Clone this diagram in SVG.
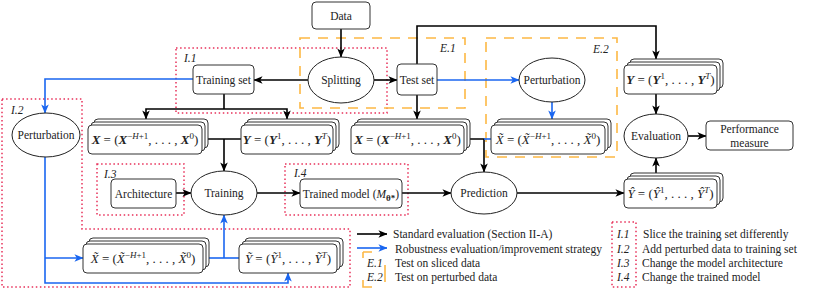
<svg xmlns="http://www.w3.org/2000/svg" width="830" height="293" viewBox="0 0 830 293">
<style>
text{font-family:"Liberation Serif","Times New Roman",serif;font-size:11.5px;fill:#222}
.c{text-anchor:middle}
.it{font-style:italic}
.m{font-size:13px;text-anchor:middle}
.b{font-weight:bold;font-style:italic}
.i{font-style:italic}
.sup{font-size:9px}
.box{fill:#fff;stroke:#333;stroke-width:1}
.ell{fill:#fff;stroke:#222;stroke-width:1}
.k{fill:none;stroke:#000;stroke-width:1.6}
.bl{fill:none;stroke:#1a66f0;stroke-width:1.6}
.ka{marker-end:url(#ak)}
.ba{marker-end:url(#ab)}
.red{fill:none;stroke:#e8305a;stroke-width:1.5;stroke-dasharray:1.5 2.6}
.org{fill:none;stroke:#fdb844;stroke-width:1.6;stroke-dasharray:10 8}
</style>
<defs>
<marker id="ak" viewBox="0 0 10 10" refX="9.5" refY="5" markerWidth="9" markerHeight="9" markerUnits="userSpaceOnUse" orient="auto"><path d="M0,0.8 L10,5 L0,9.2 L2.6,5 z" fill="#000"/></marker>
<marker id="ab" viewBox="0 0 10 10" refX="9.5" refY="5" markerWidth="9" markerHeight="9" markerUnits="userSpaceOnUse" orient="auto"><path d="M0,0.8 L10,5 L0,9.2 L2.6,5 z" fill="#1a66f0"/></marker>
</defs>
<rect width="830" height="293" fill="#fff"/>

<g id="regions">
<rect class="red" x="176" y="48" width="211" height="65"/>
<path class="red" d="M2,99 H82 V229 H350 V287 H2 Z"/>
<rect class="red" x="97" y="164" width="87" height="51"/>
<rect class="red" x="285" y="164" width="123" height="51"/>
<rect class="org" x="300" y="38" width="165" height="70"/>
<rect class="org" x="486" y="38" width="131" height="119"/>
<text x="184" y="62" class="it">I.1</text>
<text x="11" y="114" class="it">I.2</text>
<text x="104" y="178" class="it">I.3</text>
<text x="294" y="177" class="it">I.4</text>
<text x="440" y="52" class="it">E.1</text>
<text x="593" y="53" class="it">E.2</text>
</g>

<g id="connectors">
<path class="k ka" d="M341,29 V57"/>
<path class="k ka" d="M308,80 H254"/>
<path class="k ka" d="M374,80 H397"/>
<path class="k" d="M224,94 V109"/>
<path class="k ka" d="M224,109 H146 V119"/>
<path class="k ka" d="M224,109 H287 V119"/>
<path class="k ka" d="M417,64 V26 H656 V59"/>
<path class="k ka" d="M417,95 V119"/>
<path class="k" d="M208,139 H241"/>
<path class="k ka" d="M224,139 V171"/>
<path class="k ka" d="M470,139 H484 V172"/>
<path class="k ka" d="M176,193 H191"/>
<path class="k ka" d="M257,193 H300"/>
<path class="k ka" d="M402,193 H451"/>
<path class="k ka" d="M517,193 H624"/>
<path class="k ka" d="M656,173 V158"/>
<path class="k ka" d="M656,94 V114"/>
<path class="k ka" d="M688,136 H706"/>
<path class="bl ba" d="M437,80 H519"/>
<path class="bl ba" d="M552,102 V119"/>
<path class="bl" d="M491,139 H484"/>
<path class="bl ba" d="M193,79 H45 V113"/>
<path class="bl ba" d="M45,157 V283 H288 V273"/>
<path class="bl ba" d="M45,258 H83"/>
<path class="bl" d="M209,258 H239"/>
<path class="bl ba" d="M224,258 V215"/>
</g>

<g id="data"><rect class="box" x="312" y="2" width="58" height="27" rx="4"/><text x="341" y="20" class="c">Data</text></g>
<g id="splitting"><ellipse class="ell" cx="341" cy="80" rx="33" ry="23"/><text x="341" y="84" class="c">Splitting</text></g>
<g id="training-set"><rect class="box" x="193" y="65" width="61" height="29" rx="4"/><text x="223.5" y="84" class="c">Training set</text></g>
<g id="test-set"><rect class="box" x="397" y="64" width="40" height="31" rx="4"/><text x="417" y="84" class="c">Test set</text></g>
<g id="perturbation-test"><ellipse class="ell" cx="552" cy="80" rx="33" ry="22"/><text x="552" y="84" class="c">Perturbation</text></g>
<g id="perturbation-train"><ellipse class="ell" cx="46" cy="135" rx="34" ry="22"/><text x="46" y="139" class="c">Perturbation</text></g>

<g id="x-train">
<rect class="box" x="94" y="119" width="114" height="29" rx="4"/><rect class="box" x="91" y="122" width="114" height="29" rx="4"/><rect class="box" x="88" y="125" width="114" height="29" rx="4"/>
<text x="145" y="144" class="m"><tspan class="b">X</tspan> = (<tspan class="b">X</tspan><tspan class="sup" dy="-5">−<tspan class="i">H</tspan>+1</tspan><tspan dy="5">, . . . , </tspan><tspan class="b">X</tspan><tspan class="sup" dy="-5">0</tspan><tspan dy="5">)</tspan></text>
</g>
<g id="y-train">
<rect class="box" x="247" y="119" width="92" height="29" rx="4"/><rect class="box" x="244" y="122" width="92" height="29" rx="4"/><rect class="box" x="241" y="125" width="92" height="29" rx="4"/>
<text x="287" y="144" class="m"><tspan class="b">Y</tspan> = (<tspan class="b">Y</tspan><tspan class="sup" dy="-5">1</tspan><tspan dy="5">, . . . , </tspan><tspan class="b">Y</tspan><tspan class="sup i" dy="-5">T</tspan><tspan dy="5">)</tspan></text>
</g>
<g id="x-test">
<rect class="box" x="357" y="119" width="113" height="29" rx="4"/><rect class="box" x="354" y="122" width="113" height="29" rx="4"/><rect class="box" x="351" y="125" width="113" height="29" rx="4"/>
<text x="407.5" y="144" class="m"><tspan class="b">X</tspan> = (<tspan class="b">X</tspan><tspan class="sup" dy="-5">−<tspan class="i">H</tspan>+1</tspan><tspan dy="5">, . . . , </tspan><tspan class="b">X</tspan><tspan class="sup" dy="-5">0</tspan><tspan dy="5">)</tspan></text>
</g>
<g id="x-tilde-test">
<rect class="box" x="497" y="119" width="114" height="29" rx="4"/><rect class="box" x="494" y="122" width="114" height="29" rx="4"/><rect class="box" x="491" y="125" width="114" height="29" rx="4"/>
<text x="548" y="144" class="m"><tspan class="i">X̃</tspan> = (<tspan class="i">X̃</tspan><tspan class="sup" dy="-5">−<tspan class="i">H</tspan>+1</tspan><tspan dy="5">, . . . , </tspan><tspan class="i">X̃</tspan><tspan class="sup" dy="-5">0</tspan><tspan dy="5">)</tspan></text>
</g>
<g id="y-test">
<rect class="box" x="630" y="59" width="93" height="29" rx="4"/><rect class="box" x="627" y="62" width="93" height="29" rx="4"/><rect class="box" x="624" y="65" width="93" height="29" rx="4"/>
<text x="670.5" y="84" class="m"><tspan class="b">Y</tspan> = (<tspan class="b">Y</tspan><tspan class="sup" dy="-5">1</tspan><tspan dy="5">, . . . , </tspan><tspan class="b">Y</tspan><tspan class="sup i" dy="-5">T</tspan><tspan dy="5">)</tspan></text>
</g>
<g id="evaluation"><ellipse class="ell" cx="656" cy="136" rx="32" ry="22"/><text x="656" y="140" class="c">Evaluation</text></g>
<g id="performance"><rect class="box" x="706" y="121" width="87" height="29" rx="4"/><text x="749.5" y="133" class="c">Performance</text><text x="749.5" y="147" class="c">measure</text></g>
<g id="architecture"><rect class="box" x="111" y="179" width="65" height="29" rx="4"/><text x="143.5" y="198" class="c">Architecture</text></g>
<g id="training"><ellipse class="ell" cx="224" cy="193" rx="33" ry="22"/><text x="224" y="197" class="c">Training</text></g>
<g id="trained-model"><rect class="box" x="300" y="179" width="102" height="29" rx="4"/><text x="351" y="198" class="c">Trained model (<tspan class="i">M</tspan><tspan class="sup" font-weight="bold" dy="3">θ*</tspan><tspan dy="-3">)</tspan></text></g>
<g id="prediction"><ellipse class="ell" cx="484" cy="193" rx="33" ry="21"/><text x="484" y="197" class="c">Prediction</text></g>
<g id="y-hat">
<rect class="box" x="630" y="173" width="93" height="29" rx="4"/><rect class="box" x="627" y="176" width="93" height="29" rx="4"/><rect class="box" x="624" y="179" width="93" height="29" rx="4"/>
<text x="670.5" y="198" class="m"><tspan class="i">Ŷ</tspan> = (<tspan class="i">Ŷ</tspan><tspan class="sup" dy="-5">1</tspan><tspan dy="5">, . . . , </tspan><tspan class="i">Ŷ</tspan><tspan class="sup i" dy="-5">T</tspan><tspan dy="5">)</tspan></text>
</g>
<g id="x-tilde-train">
<rect class="box" x="89" y="238" width="120" height="29" rx="4"/><rect class="box" x="86" y="241" width="120" height="29" rx="4"/><rect class="box" x="83" y="244" width="120" height="29" rx="4"/>
<text x="143" y="263" class="m"><tspan class="i">X̃</tspan> = (<tspan class="i">X̃</tspan><tspan class="sup" dy="-5">−<tspan class="i">H</tspan>+1</tspan><tspan dy="5">, . . . , </tspan><tspan class="i">X̃</tspan><tspan class="sup" dy="-5">0</tspan><tspan dy="5">)</tspan></text>
</g>
<g id="y-tilde-train">
<rect class="box" x="245" y="238" width="98" height="29" rx="4"/><rect class="box" x="242" y="241" width="98" height="29" rx="4"/><rect class="box" x="239" y="244" width="98" height="29" rx="4"/>
<text x="288" y="263" class="m"><tspan class="i">Ỹ</tspan> = (<tspan class="i">Ỹ</tspan><tspan class="sup" dy="-5">1</tspan><tspan dy="5">, . . . , </tspan><tspan class="i">Ỹ</tspan><tspan class="sup i" dy="-5">T</tspan><tspan dy="5">)</tspan></text>
</g>

<g id="legend">
<path class="k ka" d="M357,234 H387"/>
<path class="bl ba" d="M357,248 H387"/>
<text x="393" y="238">Standard evaluation (Section II-A)</text>
<text x="395" y="253">Robustness evaluation/improvement strategy</text>
<rect class="org" x="363" y="252" width="22" height="35" style="stroke-dasharray:9 26 17 18 16 22 6 0"/>
<text x="367" y="267" class="it">E.1</text>
<text x="367" y="281" class="it">E.2</text>
<text x="395" y="267">Test on sliced data</text>
<text x="395" y="281">Test on perturbed data</text>
<rect class="red" x="612" y="222" width="24" height="65"/>
<text x="617" y="238" class="it">I.1</text>
<text x="617" y="253" class="it">I.2</text>
<text x="617" y="267" class="it">I.3</text>
<text x="617" y="281" class="it">I.4</text>
<text x="643" y="238">Slice the training set differently</text>
<text x="642" y="253">Add perturbed data to training set</text>
<text x="642" y="267">Change the model architecture</text>
<text x="642" y="281">Change the trained model</text>
</g>
</svg>
